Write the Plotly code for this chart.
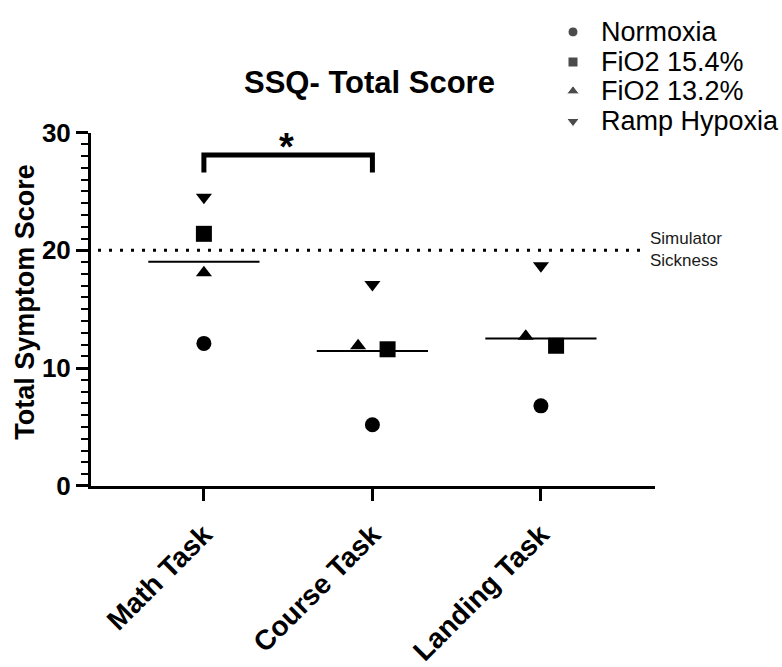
import plotly.graph_objects as go

# Simulator Sickness Questionnaire, total score per task and oxygen condition
tasks = ["Math Task", "Course Task", "Landing Task"]
conditions = ["Normoxia", "FiO2 15.4%", "FiO2 13.2%", "Ramp Hypoxia"]
symbols = ["circle", "square", "triangle-up", "triangle-down"]

normoxia = [12.1, 5.2, 6.8]
fio2_154 = [21.4, 11.6, 11.9]
fio2_132 = [18.1, 11.9, 12.7]
ramp_hypoxia = [24.5, 17.1, 18.7]

series = [normoxia, fio2_154, fio2_132, ramp_hypoxia]
sickness_threshold = 20
y_ticks = [0, 10, 20, 30]

# small horizontal nudges so overlapping points stay visible
nudge = {
    "Normoxia": [0.0, 0.0, 0.0],
    "FiO2 15.4%": [0.0, 0.09, 0.09],
    "FiO2 13.2%": [0.0, -0.085, -0.09],
    "Ramp Hypoxia": [0.0, 0.0, 0.0],
}
marker_size = {"circle": 15, "square": 16, "triangle-up": 14, "triangle-down": 14}
key_size = {"circle": 10, "square": 10, "triangle-up": 11, "triangle-down": 11}

FONT = "Liberation Sans, Arial, sans-serif"
W, H = 782, 667
# plot area in figure pixels
PX0, PX1, PY0, PY1 = 91, 655, 125, 501

fig = go.Figure()

for name, sym, vals in zip(conditions, symbols, series):
    xs = [i + d for i, d in enumerate(nudge[name])]
    fig.add_trace(go.Scatter(
        x=xs, y=vals, mode="markers", name=name, showlegend=False,
        marker=dict(symbol=sym, size=marker_size[sym], color="black"),
        cliponaxis=False,
    ))

# group means
for i in range(len(tasks)):
    vals = [s[i] for s in series]
    m = sum(vals) / len(vals)
    fig.add_trace(go.Scatter(
        x=[i - 0.33, i + 0.33], y=[m, m], mode="lines", showlegend=False,
        line=dict(color="black", width=2), hoverinfo="skip",
    ))

# key, drawn on a hidden full-figure axis pair measured in pixels
key_x = 573
key_rows = [18, 50, 81, 113]
fig.add_trace(go.Scatter(
    x=[key_x] * len(conditions), y=key_rows, mode="markers",
    marker=dict(symbol=symbols, size=[key_size[s] for s in symbols], color="black"),
    xaxis="x2", yaxis="y2", showlegend=False, hoverinfo="skip",
))
for name, yy in zip(conditions, key_rows):
    fig.add_annotation(xref="x2", yref="y2", x=599, y=yy, text=name,
                       showarrow=False, xanchor="left", yanchor="middle",
                       font=dict(family=FONT, size=27, color="black"))

# simulator sickness threshold
fig.add_shape(type="line", xref="x2", yref="y", x0=98, x1=646,
              y0=sickness_threshold, y1=sickness_threshold,
              line=dict(color="black", width=3, dash="3px,8px"))
fig.add_annotation(xref="x2", yref="y2", x=648, y=249.5,
                   text="Simulator<br>Sickness", align="left",
                   showarrow=False, xanchor="left", yanchor="middle",
                   font=dict(family=FONT, size=17, color="#1a1a1a"))

# significance bracket between Math and Course tasks
fig.add_shape(type="path", xref="x", yref="y",
              path="M 0,26.6 L 0,28.1 L 1,28.1 L 1,26.6",
              line=dict(color="black", width=5))
fig.add_annotation(xref="x2", yref="y2", x=286, y=140, text="<b>*</b>",
                   showarrow=False, xanchor="center", yanchor="middle",
                   font=dict(family=FONT, size=38, color="black"))

# chart title and y-axis title
fig.add_annotation(xref="x2", yref="y2", x=369, y=72,
                   text="<b>SSQ- Total Score</b>", showarrow=False,
                   xanchor="center", yanchor="middle",
                   font=dict(family=FONT, size=31, color="black"))
fig.add_annotation(xref="x2", yref="y2", x=25, y=305,
                   text="<b>Total Symptom Score</b>", textangle=-90,
                   showarrow=False, xanchor="center", yanchor="middle",
                   font=dict(family=FONT, size=27, color="black"))

fig.update_layout(
    width=W, height=H,
    margin=dict(l=0, r=0, t=0, b=0),
    paper_bgcolor="white", plot_bgcolor="rgba(0,0,0,0)",
    showlegend=False,
    xaxis=dict(
        domain=[PX0 / W, PX1 / W], anchor="y",
        range=[-0.67, 2.677], tickmode="array", tickvals=[0, 1, 2], ticktext=tasks,
        tickangle=-45, ticks="outside", ticklen=12, tickwidth=3, tickcolor="black",
        showline=True, linewidth=3, linecolor="black", showgrid=False, zeroline=False,
        ticklabelstandoff=6,
        tickfont=dict(family=FONT, size=28, color="black", weight="bold"),
    ),
    yaxis=dict(
        domain=[(H - PY1) / H, (H - PY0) / H], anchor="x",
        range=[0, 30], tickvals=y_ticks, ticks="outside", ticklen=12, tickwidth=3,
        tickcolor="black", showline=True, linewidth=3, linecolor="black",
        showgrid=False, zeroline=False,
        minor=dict(dtick=1, ticks="outside", ticklen=7, tickwidth=2,
                   tickcolor="black", showgrid=False),
        tickfont=dict(family=FONT, size=26, color="black", weight="bold"),
    ),
    xaxis2=dict(domain=[0, 1], anchor="y2", range=[0, W], visible=False, fixedrange=True),
    yaxis2=dict(domain=[0, 1], anchor="x2", range=[H, 0], visible=False, fixedrange=True),
)

fig.write_html("out.html")
